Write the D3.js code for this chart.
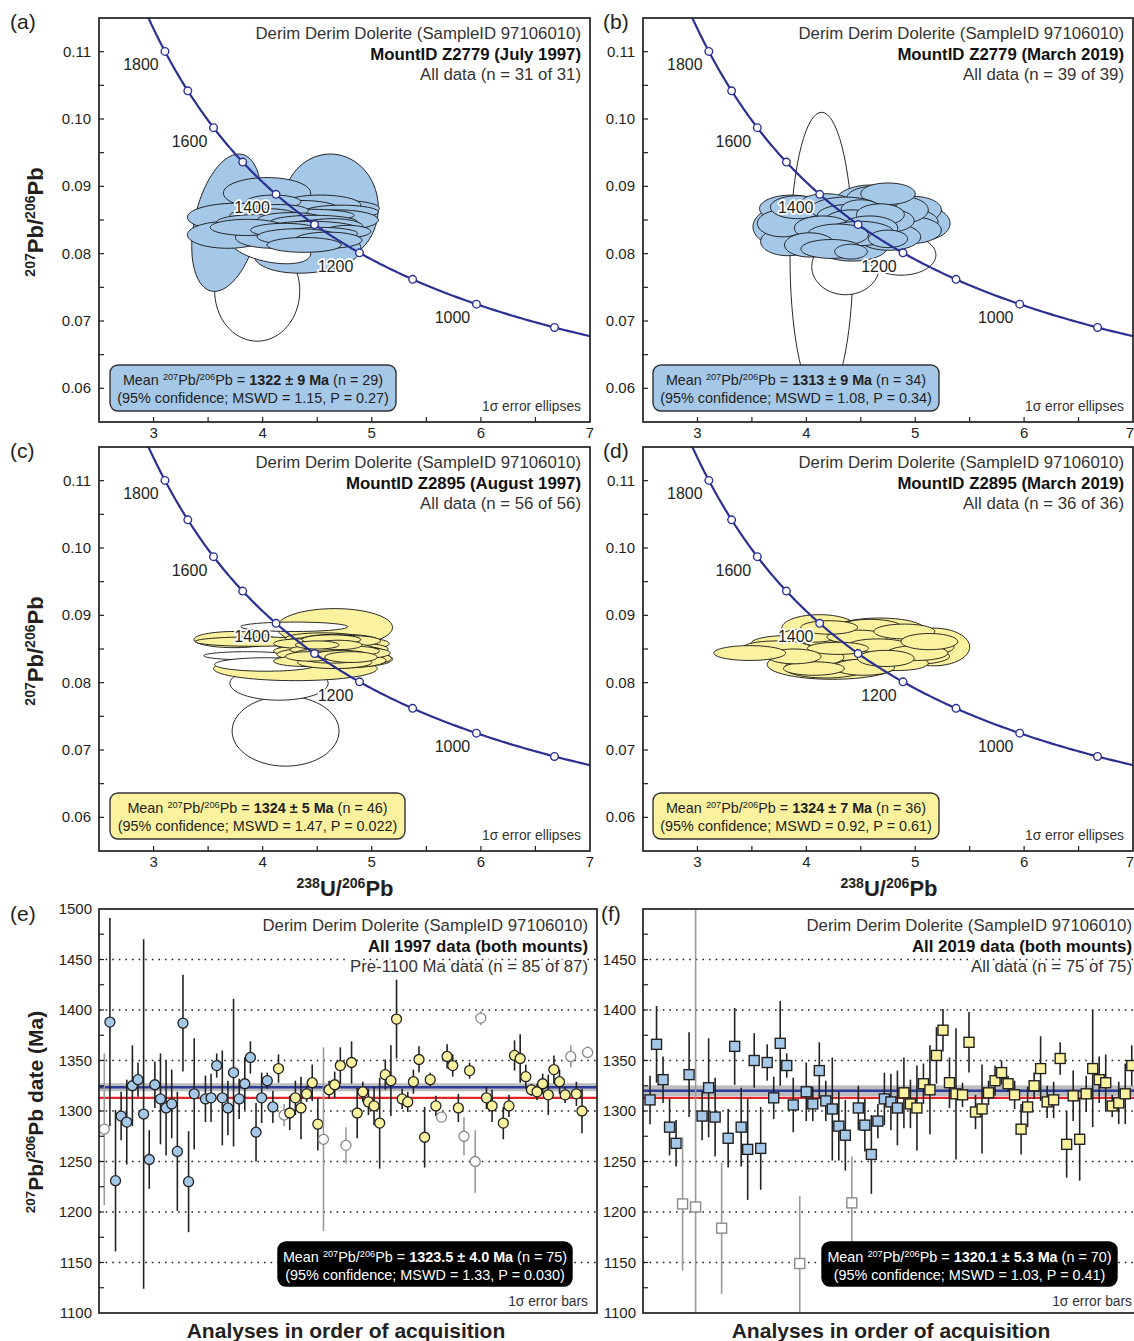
<!DOCTYPE html>
<html>
<head>
<meta charset="utf-8">
<script src="https://cdn.jsdelivr.net/npm/d3@7"></script>
<style>
  body { margin: 0; background: #fff; }
  svg { display: block; }
  text { font-family: "Liberation Sans", Arial, Helvetica, sans-serif; fill: #231f20; }
</style>
</head>
<body>
<svg id="fig" width="1134" height="1341"></svg>
<script>
// ---------------------------------------------------------------------------
// data
// ---------------------------------------------------------------------------

// concordia age marks (Ma) and which of them carry a label
var concordiaAges = [900, 1000, 1100, 1200, 1300, 1400, 1500, 1600, 1700, 1800];
var concordiaLabels = [1000, 1200, 1400, 1600, 1800];

// axis ticks
var ratioTicksX = [3, 4, 5, 6, 7];
var ratioTicksY = [0.06, 0.07, 0.08, 0.09, 0.10, 0.11];
var dateTicks = [1100, 1150, 1200, 1250, 1300, 1350, 1400, 1450, 1500];
var dateGrid = [1150, 1200, 1250, 1300, 1350, 1400, 1450];

// ellipses: [238U/206Pb, 207Pb/206Pb, sx, sy, rho, used in mean (1) or not (0)]
var ellipsesA = [
  [3.95, 0.0745, 0.39, 0.0075, 0, 0],
  [3.67, 0.0846, 0.32, 0.0102, 0.35, 1],
  [4.62, 0.0868, 0.44, 0.0080, 0, 1],
  [4.41, 0.0803, 0.49, 0.0032, 0.15, 1],
  [4.07, 0.0810, 0.37, 0.0025, -0.4, 0],
  [4.04, 0.0890, 0.40, 0.0023, 0, 1],
  [4.62, 0.0864, 0.45, 0.0015, 0.2, 1],
  [3.77, 0.0854, 0.46, 0.0021, 0, 1],
  [3.68, 0.0828, 0.37, 0.0020, 0, 1],
  [4.10, 0.0824, 0.35, 0.0016, 0, 1],
  [4.53, 0.0872, 0.37, 0.0015, 0, 1],
  [4.35, 0.0867, 0.34, 0.0012, 0, 1],
  [4.10, 0.0877, 0.25, 0.0010, 0, 1],
  [4.72, 0.0862, 0.34, 0.0010, 0, 1],
  [4.69, 0.0850, 0.37, 0.0015, 0, 1],
  [4.41, 0.0857, 0.43, 0.0009, 0, 1],
  [4.14, 0.0864, 0.28, 0.0009, 0, 1],
  [4.01, 0.0857, 0.31, 0.0010, 0, 1],
  [3.95, 0.0847, 0.37, 0.0011, 0, 1],
  [4.26, 0.0850, 0.31, 0.0011, 0, 1],
  [4.47, 0.0847, 0.40, 0.0010, 0, 1],
  [4.50, 0.0842, 0.25, 0.0008, 0, 1],
  [4.64, 0.0840, 0.28, 0.0012, 0, 1],
  [3.86, 0.0839, 0.34, 0.0012, 0, 1],
  [4.44, 0.0837, 0.43, 0.0011, 0, 1],
  [4.20, 0.0835, 0.31, 0.0010, 0, 1],
  [4.78, 0.0833, 0.21, 0.0009, 0, 1],
  [4.53, 0.0830, 0.34, 0.0009, 0, 1],
  [4.32, 0.0825, 0.37, 0.0012, 0, 1],
  [4.60, 0.0820, 0.31, 0.0012, 0, 1],
  [4.38, 0.0813, 0.34, 0.0011, 0, 1]
];

var ellipsesB = [
  [4.14, 0.0795, 0.29, 0.0215, 0, 0],
  [4.36, 0.0781, 0.31, 0.0042, 0, 0],
  [4.87, 0.0798, 0.32, 0.0030, 0, 0],
  [4.45, 0.0845, 0.20, 0.0012, 0, 0],
  [4.30, 0.0836, 0.20, 0.0010, 0, 0],
  [3.80, 0.0840, 0.29, 0.0030, 0, 1],
  [4.59, 0.0875, 0.33, 0.0027, 0, 1],
  [5.07, 0.0845, 0.25, 0.0025, 0, 1],
  [4.35, 0.0833, 0.43, 0.0022, 0, 1],
  [3.86, 0.0867, 0.29, 0.0020, 0, 1],
  [3.83, 0.0818, 0.25, 0.0021, 0, 1],
  [4.72, 0.0880, 0.29, 0.0020, 0, 1],
  [4.99, 0.0865, 0.25, 0.0020, 0, 1],
  [4.96, 0.0847, 0.25, 0.0019, 0, 1],
  [4.96, 0.0835, 0.28, 0.0020, 0, 1],
  [4.01, 0.0857, 0.31, 0.0019, 0, 1],
  [3.78, 0.0845, 0.23, 0.0020, 0, 1],
  [4.29, 0.0820, 0.33, 0.0020, 0, 1],
  [4.42, 0.0809, 0.32, 0.0020, 0, 1],
  [4.76, 0.0825, 0.29, 0.0020, 0, 1],
  [4.87, 0.0865, 0.25, 0.0020, 0, 1],
  [4.62, 0.0882, 0.25, 0.0018, 0, 1],
  [4.75, 0.0889, 0.25, 0.0016, 0, 1],
  [3.92, 0.0869, 0.25, 0.0017, 0, 1],
  [4.18, 0.0876, 0.23, 0.0013, 0, 1],
  [4.36, 0.0866, 0.32, 0.0018, 0, 1],
  [4.38, 0.0856, 0.28, 0.0017, 0, 1],
  [4.50, 0.0866, 0.18, 0.0014, 0, 1],
  [4.42, 0.0847, 0.26, 0.0018, 0, 1],
  [4.76, 0.0849, 0.23, 0.0017, 0, 1],
  [4.68, 0.0858, 0.22, 0.0016, 0, 1],
  [4.15, 0.0838, 0.26, 0.0018, 0, 1],
  [4.58, 0.0838, 0.26, 0.0018, 0, 1],
  [4.49, 0.0830, 0.32, 0.0018, 0, 1],
  [4.29, 0.0828, 0.28, 0.0016, 0, 1],
  [4.03, 0.0813, 0.23, 0.0018, 0, 1],
  [4.75, 0.0822, 0.18, 0.0013, 0, 1],
  [4.23, 0.0807, 0.28, 0.0014, 0, 1],
  [4.41, 0.0803, 0.15, 0.0011, 0, 1]
];

var ellipsesC = [
  [4.21, 0.0728, 0.49, 0.0052, 0, 0],
  [4.15, 0.0799, 0.45, 0.0025, 0, 0],
  [4.45, 0.0850, 0.25, 0.0008, 0, 0],
  [4.60, 0.0842, 0.25, 0.0008, 0, 0],
  [4.50, 0.0858, 0.22, 0.0007, 0, 0],
  [4.70, 0.0848, 0.22, 0.0007, 0, 0],
  [4.30, 0.0821, 0.75, 0.0018, 0, 1],
  [3.74, 0.0864, 0.37, 0.0012, 0, 1],
  [3.92, 0.0861, 0.54, 0.0007, 0, 1],
  [3.86, 0.0840, 0.40, 0.0006, 0, 0],
  [4.03, 0.0827, 0.47, 0.0010, 0, 0],
  [4.66, 0.0882, 0.53, 0.0028, 0, 1],
  [4.29, 0.0883, 0.49, 0.0007, 0, 0],
  [4.55, 0.0866, 0.30, 0.0006, 0, 0],
  [4.88, 0.0835, 0.31, 0.0011, 0, 1],
  [4.62, 0.0851, 0.46, 0.0012, 0, 1],
  [4.55, 0.0866, 0.34, 0.0008, 0, 1],
  [4.70, 0.0863, 0.36, 0.0009, 0, 1],
  [4.48, 0.0860, 0.30, 0.0007, 0, 1],
  [4.78, 0.0858, 0.38, 0.0010, 0, 1],
  [4.60, 0.0856, 0.33, 0.0008, 0, 1],
  [4.42, 0.0854, 0.28, 0.0007, 0, 1],
  [4.72, 0.0853, 0.35, 0.0009, 0, 1],
  [4.52, 0.0851, 0.30, 0.0008, 0, 1],
  [4.85, 0.0850, 0.30, 0.0009, 0, 1],
  [4.65, 0.0848, 0.32, 0.0008, 0, 1],
  [4.40, 0.0847, 0.30, 0.0008, 0, 1],
  [4.75, 0.0846, 0.36, 0.0010, 0, 1],
  [4.55, 0.0845, 0.28, 0.0007, 0, 1],
  [4.68, 0.0843, 0.34, 0.0008, 0, 1],
  [4.45, 0.0842, 0.32, 0.0009, 0, 1],
  [4.82, 0.0841, 0.33, 0.0009, 0, 1],
  [4.58, 0.0840, 0.30, 0.0008, 0, 1],
  [4.70, 0.0838, 0.35, 0.0009, 0, 1],
  [4.50, 0.0837, 0.30, 0.0008, 0, 1],
  [4.88, 0.0836, 0.30, 0.0010, 0, 1],
  [4.62, 0.0834, 0.33, 0.0009, 0, 1],
  [4.75, 0.0833, 0.38, 0.0011, 0, 1],
  [4.40, 0.0832, 0.30, 0.0008, 0, 1],
  [4.66, 0.0830, 0.34, 0.0009, 0, 1],
  [4.92, 0.0844, 0.25, 0.0008, 0, 1],
  [4.35, 0.0858, 0.25, 0.0007, 0, 1],
  [4.80, 0.0862, 0.28, 0.0008, 0, 1],
  [4.58, 0.0859, 0.22, 0.0007, 0, 1],
  [4.63, 0.0864, 0.27, 0.0007, 0, 1],
  [4.47, 0.0849, 0.22, 0.0006, 0, 1],
  [4.77, 0.0851, 0.24, 0.0007, 0, 1],
  [4.53, 0.0843, 0.24, 0.0007, 0, 1],
  [4.85, 0.0847, 0.22, 0.0007, 0, 1],
  [4.64, 0.0836, 0.26, 0.0007, 0, 1],
  [4.43, 0.0839, 0.22, 0.0007, 0, 1],
  [4.72, 0.0841, 0.24, 0.0007, 0, 1],
  [4.57, 0.0853, 0.20, 0.0006, 0, 1],
  [4.69, 0.0856, 0.22, 0.0007, 0, 1],
  [4.81, 0.0838, 0.24, 0.0008, 0, 1],
  [4.50, 0.0856, 0.20, 0.0006, 0, 1]
];

var ellipsesD = [
  [4.24, 0.0827, 0.60, 0.0022, 0, 1],
  [5.18, 0.0851, 0.29, 0.0017, 0, 1],
  [5.17, 0.0853, 0.33, 0.0028, 0, 1],
  [4.12, 0.0881, 0.345, 0.0020, 0, 1],
  [4.67, 0.0880, 0.41, 0.0016, 0, 1],
  [4.90, 0.0854, 0.40, 0.0015, 0, 1],
  [3.92, 0.0850, 0.49, 0.0013, 0, 1],
  [4.18, 0.0822, 0.38, 0.0015, 0, 1],
  [3.83, 0.0858, 0.34, 0.0012, 0, 1],
  [4.26, 0.0864, 0.31, 0.0012, 0, 1],
  [4.67, 0.0861, 0.32, 0.0013, 0, 1],
  [4.70, 0.0843, 0.32, 0.0013, 0, 1],
  [4.97, 0.0839, 0.345, 0.0012, 0, 1],
  [4.44, 0.0851, 0.31, 0.0012, 0, 1],
  [4.47, 0.0832, 0.37, 0.0013, 0, 1],
  [4.95, 0.0866, 0.23, 0.0011, 0, 1],
  [4.04, 0.0870, 0.28, 0.0010, 0, 1],
  [5.01, 0.0849, 0.26, 0.0011, 0, 1],
  [4.59, 0.0883, 0.28, 0.0011, 0, 1],
  [4.33, 0.0844, 0.29, 0.0011, 0, 1],
  [4.10, 0.0838, 0.245, 0.0012, 0, 1],
  [4.84, 0.0829, 0.28, 0.0011, 0, 1],
  [3.73, 0.0852, 0.31, 0.0010, 0, 1],
  [5.11, 0.0853, 0.245, 0.0012, 0, 1],
  [4.47, 0.0868, 0.28, 0.0010, 0, 1],
  [4.53, 0.0823, 0.28, 0.0012, 0, 1],
  [4.21, 0.0882, 0.26, 0.0010, 0, 1],
  [4.90, 0.0876, 0.28, 0.0011, 0, 1],
  [4.07, 0.0821, 0.28, 0.0010, 0, 1],
  [4.66, 0.0855, 0.28, 0.0010, 0, 1],
  [5.02, 0.0844, 0.28, 0.0011, 0, 1],
  [5.13, 0.0861, 0.26, 0.0012, 0, 1],
  [4.29, 0.0851, 0.28, 0.0009, 0, 1],
  [3.89, 0.0839, 0.245, 0.0011, 0, 1],
  [4.73, 0.0836, 0.26, 0.0012, 0, 1],
  [3.48, 0.0844, 0.33, 0.0011, 0, 1]
];

// dates (Ma) in order of acquisition; null = below 1100 Ma (off scale)
var datesE = [1282, 1388, 1231, 1295, 1289, 1325, 1331, 1297, 1252, 1326,
  1312, 1303, 1307, 1260, 1387, 1230, 1317, null, 1312, 1313,
  1345, 1313, 1303, 1338, 1312, 1327, 1353, 1279, 1313, 1330,
  1304, 1342, 1296, 1298, 1313, 1303, 1317, 1328, 1287, 1272,
  1321, 1326, 1345, 1266, 1348, 1298, 1319, 1309, 1305, 1288,
  1336, 1330, 1391, 1312, 1309, 1329, 1351, 1274, 1331, 1305,
  1294, 1354, 1345, 1303, 1275, 1340, 1250, 1392, 1313, 1305,
  null, 1288, 1305, 1355, 1352, 1334, 1321, 1319, 1327, 1316,
  1341, 1329, 1316, 1354, 1317, 1300, 1358];
var errorsE = [75, 103, 70, 24, 42, 40, 17, 173, 29, 23,
  45, 47, 34, 59, 48, 50, 55, 0, 23, 24,
  12, 47, 27, 73, 20, 26, 16, 29, 25, 8,
  16, 14, 11, 17, 17, 31, 8, 18, 26, 91,
  9, 13, 18, 18, 21, 25, 10, 13, 19, 45,
  15, 35, 39, 10, 10, 12, 13, 30, 7, 10,
  4, 12, 11, 14, 19, 8, 31, 7, 11, 16,
  0, 16, 11, 15, 24, 12, 6, 8, 10, 20,
  14, 12, 8, 11, 12, 22, 6];
// B = Z2779, Y = Z2895, W = excluded from the mean
var statusE = ['W', 'BBBBBBBBBB', 'BBBBBBBBBB', 'BBBBBBBBBB', 'Y', 'W', 'YYYYYY', 'W', 'YYY', 'W',
  'YYYYYYYYYYYYYYYY', 'W', 'YYY', 'W', 'Y', 'W', 'W', 'YY', 'Y', 'YYYYYYYYYYYY', 'W', 'YY', 'W'].join('').split('');

var datesF = [1311, 1366, 1331, 1284, 1268, 1208, 1336, 1205, 1295, 1323,
  1294, 1184, 1273, 1364, 1284, 1262, 1350, 1263, 1348, 1313,
  1367, 1345, 1306, 1149, 1319, 1307, 1340, 1310, 1302, 1285,
  1276, 1209, 1303, 1286, 1257, 1290, 1312, 1309, 1303, 1318,
  1307, 1303, 1327, 1321, 1355, 1380, 1328, 1317, 1316, 1368,
  1299, 1302, 1318, 1330, 1338, 1327, 1316, 1282, 1304, 1325,
  1342, 1309, 1311, 1352, 1267, 1315, 1272, 1317, 1342, 1331,
  1328, 1305, 1308, 1317, 1345];
var errorsF = [24, 38, 23, 28, 23, 66, 42, 330, 24, 49,
  39, 65, 29, 38, 39, 50, 27, 41, 18, 21,
  42, 12, 27, 67, 29, 17, 28, 20, 51, 34,
  35, 46, 22, 26, 39, 17, 26, 28, 37, 35,
  24, 42, 20, 44, 28, 21, 25, 65, 12, 30,
  17, 44, 12, 15, 12, 8, 14, 25, 20, 13,
  32, 16, 18, 16, 33, 25, 41, 18, 58, 23,
  28, 11, 21, 30, 20];
var statusF = ['BBBBB', 'W', 'B', 'W', 'BBB', 'W', 'BBBBBBBBBBB', 'W', 'BBBBBBB', 'W', 'BBBBBBB',
  'YYYYYYYYYYYYYYYYYYYYYYYYYYYYYYYYYYYY'].join('').split('');

// weighted means (Ma) and the reference age drawn in red
var meanE = 1323.5, meanErrE = 4.0;
var meanF = 1320.1, meanErrF = 5.3;
var referenceAge = 1313;

// ---------------------------------------------------------------------------
// styles and helpers
// ---------------------------------------------------------------------------
var blueFill = '#a6c8e8';
var yellowFill = '#fbf2a0';
var navy = '#2b3192';
var ink = '#231f20';

// decay constants for the Tera-Wasserburg concordia
var L238 = 1.55125e-10, L235 = 9.8485e-10, U_RATIO = 137.88;
function twX(t) { return 1 / (Math.exp(L238 * t * 1e6) - 1); }
function twY(t) { return (Math.exp(L235 * t * 1e6) - 1) / (Math.exp(L238 * t * 1e6) - 1) / U_RATIO; }

var svg = d3.select('#fig');
var clipId = 0;

// parts: [text, style] with style '', 'b' (bold) or 'sup'
function rich(textSel, parts, fs) {
  var shift = 0;
  parts.forEach(function (p) {
    var t = textSel.append('tspan').text(p[0]);
    if (p[1] === 'b') t.attr('font-weight', 'bold');
    if (p[1] === 'sup') {
      t.attr('font-size', (fs * 0.64) + 'px').attr('dy', (-fs * 0.38 - shift) + 'px');
      shift = -fs * 0.38;
    } else if (shift !== 0) {
      t.attr('dy', (-shift) + 'px');
      shift = 0;
    }
  });
  return textSel;
}

function panelLabel(txt, x, y) {
  svg.append('text').attr('x', x).attr('y', y)
    .attr('font-size', '21px').text(txt);
}

function header(g, w, lines, top) {
  lines.forEach(function (l, i) {
    g.append('text')
      .attr('x', w - 9).attr('y', top + i * 20.5)
      .attr('text-anchor', 'end')
      .attr('font-size', '16.8px')
      .attr('font-weight', i === 1 ? 'bold' : null)
      .attr('stroke', '#fff').attr('stroke-width', 5)
      .attr('paint-order', 'stroke')
      .attr('stroke-linejoin', 'round')
      .style('fill', i === 1 ? '#111' : '#333')
      .text(l);
  });
}

function meanBox(g, box, fill, dark, mean, ci, line2) {
  g.append('rect')
    .attr('x', box[0]).attr('y', box[1]).attr('width', box[2]).attr('height', box[3])
    .attr('rx', 8).attr('ry', 8)
    .attr('fill', fill).attr('stroke', dark ? '#000' : '#333').attr('stroke-width', 1.4);
  var cx = box[0] + box[2] / 2;
  var col = dark ? '#fff' : '#231f20';
  var t1 = g.append('text').attr('x', cx).attr('y', box[1] + 20)
    .attr('text-anchor', 'middle').attr('font-size', '14.4px').style('fill', col);
  rich(t1, [['Mean ', ''], ['207', 'sup'], ['Pb/', ''], ['206', 'sup'], ['Pb = ', ''],
    [mean, 'b'], [' (n = ' + ci + ')', '']], 14.4);
  g.append('text').attr('x', cx).attr('y', box[1] + 38)
    .attr('text-anchor', 'middle').attr('font-size', '14.4px').style('fill', col)
    .text(line2);
}

function ellipsePath(e, x, y) {
  var r2 = Math.sqrt(1 - e[4] * e[4]);
  var pts = d3.range(72).map(function (i) {
    var a = i / 72 * 2 * Math.PI;
    return [x(e[0] + e[2] * Math.cos(a)),
            y(e[1] + e[3] * (e[4] * Math.cos(a) + r2 * Math.sin(a)))];
  });
  return d3.line().curve(d3.curveLinearClosed)(pts);
}

function clipFor(g, w, h) {
  var id = 'clip' + (clipId++);
  g.append('clipPath').attr('id', id).append('rect').attr('width', w).attr('height', h);
  return 'url(#' + id + ')';
}

// ---------------------------------------------------------------------------
// concordia panels (a)-(d)
// ---------------------------------------------------------------------------
function ratioPanel(cfg) {
  var g = svg.append('g').attr('transform', 'translate(' + cfg.left + ',' + cfg.top + ')');
  var x = d3.scaleLinear().domain([2.5, 7]).range([0, cfg.w]);
  var y = d3.scaleLinear().domain([0.055, 0.115]).range([cfg.h, 0]);
  var clip = clipFor(g, cfg.w, cfg.h);
  var body = g.append('g').attr('clip-path', clip);

  body.selectAll('path.ell')
    .data(cfg.ellipses).enter().append('path')
    .classed('ell', true)
    .attr('d', function (e) { return ellipsePath(e, x, y); })
    .attr('fill', function (e) { return e[5] ? cfg.fill : '#fff'; })
    .attr('stroke', '#111').attr('stroke-width', 0.9);

  var ages = d3.range(800, 2101, 5);
  body.append('path')
    .attr('d', d3.line().x(function (t) { return x(twX(t)); }).y(function (t) { return y(twY(t)); })(ages))
    .attr('fill', 'none').attr('stroke', navy).attr('stroke-width', 2.2);

  body.selectAll('circle.age')
    .data(concordiaAges).enter().append('circle')
    .classed('age', true)
    .attr('cx', function (t) { return x(twX(t)); })
    .attr('cy', function (t) { return y(twY(t)); })
    .attr('r', 3.8).attr('fill', '#fff').attr('stroke', navy).attr('stroke-width', 1.4);

  g.selectAll('text.agelab')
    .data(concordiaLabels).enter().append('text')
    .classed('agelab', true)
    .attr('x', function (t) { return x(twX(t)) - 24; })
    .attr('y', function (t) { return y(twY(t)) + 19; })
    .attr('text-anchor', 'middle').attr('font-size', '16px')
    .attr('stroke', '#fff').attr('stroke-width', 3.5).attr('paint-order', 'stroke')
    .attr('stroke-linejoin', 'round')
    .text(function (t) { return t; });

  header(g, cfg.w, cfg.lines, 21);
  meanBox(g, cfg.box, cfg.fill, false, cfg.mean, cfg.n, cfg.stats);

  g.append('text').attr('x', cfg.w - 9).attr('y', cfg.h - 11)
    .attr('text-anchor', 'end').attr('font-size', '13.8px').style('fill', '#333')
    .text('1\u03c3 error ellipses');

  // ticks inside the frame
  g.selectAll('line.xt')
    .data(d3.range(3, 7, 0.5)).enter().append('line')
    .attr('x1', x).attr('x2', x).attr('y1', cfg.h).attr('y2', cfg.h - 5)
    .attr('stroke', ink).attr('stroke-width', 1.2);
  g.selectAll('line.yt')
    .data(d3.range(0.06, 0.1125, 0.005)).enter().append('line')
    .attr('y1', y).attr('y2', y).attr('x1', 0).attr('x2', 5)
    .attr('stroke', ink).attr('stroke-width', 1.2);

  // the last tick label sits on the page edge in the right-hand column
  g.selectAll('text.xl')
    .data(ratioTicksX).enter().append('text')
    .attr('x', function (d) { return (cfg.edge && d === 7) ? cfg.w + 1 : x(d); })
    .attr('y', cfg.h + 16)
    .attr('text-anchor', function (d) { return (cfg.edge && d === 7) ? 'end' : 'middle'; })
    .attr('font-size', '15px')
    .text(function (d) { return d; });
  g.selectAll('text.yl')
    .data(ratioTicksY).enter().append('text')
    .attr('x', -8).attr('y', function (d) { return y(d) + 5; })
    .attr('text-anchor', 'end').attr('font-size', '15px')
    .text(d3.format('.2f'));

  g.append('rect').attr('width', cfg.w).attr('height', cfg.h)
    .attr('fill', 'none').attr('stroke', ink).attr('stroke-width', 1.7);
}

// ---------------------------------------------------------------------------
// date panels (e)-(f)
// ---------------------------------------------------------------------------
function datePanel(cfg) {
  var g = svg.append('g').attr('transform', 'translate(' + cfg.left + ',' + cfg.top + ')');
  var x = d3.scaleLinear().domain(cfg.slots).range([0, cfg.w]);
  var y = d3.scaleLinear().domain([1100, 1500]).range([cfg.h, 0]);
  var clip = clipFor(g, cfg.w, cfg.h);

  g.selectAll('line.grid')
    .data(dateGrid).enter().append('line')
    .attr('x1', 0).attr('x2', cfg.w).attr('y1', y).attr('y2', y)
    .attr('stroke', '#222').attr('stroke-width', 1.3).attr('stroke-dasharray', '1.6,5');

  var body = g.append('g').attr('clip-path', clip);
  body.append('rect')
    .attr('x', 0).attr('width', cfg.w)
    .attr('y', y(cfg.mean + cfg.meanErr))
    .attr('height', y(cfg.mean - cfg.meanErr) - y(cfg.mean + cfg.meanErr))
    .attr('fill', '#bcbdc0');
  body.append('line').attr('x1', 0).attr('x2', cfg.w)
    .attr('y1', y(referenceAge)).attr('y2', y(referenceAge))
    .attr('stroke', '#e3242b').attr('stroke-width', 2.2);
  body.append('line').attr('x1', 0).attr('x2', cfg.w)
    .attr('y1', y(cfg.mean)).attr('y2', y(cfg.mean))
    .attr('stroke', '#2e3d98').attr('stroke-width', 2.4);

  var pts = cfg.dates.map(function (v, i) {
    return {k: i + 1, v: v, e: cfg.errors[i], s: cfg.status[i]};
  }).filter(function (p) { return p.v !== null; });

  function col(s) { return s === 'W' ? '#fff' : (s === 'B' ? blueFill : yellowFill); }

  var grp = body.selectAll('g.pt').data(pts).enter().append('g').classed('pt', true);
  grp.append('line')
    .attr('x1', function (p) { return x(p.k); }).attr('x2', function (p) { return x(p.k); })
    .attr('y1', function (p) { return y(p.v - p.e); }).attr('y2', function (p) { return y(p.v + p.e); })
    .attr('stroke', function (p) { return p.s === 'W' ? '#9a9a9a' : '#222'; })
    .attr('stroke-width', 1.6);
  if (cfg.square) {
    grp.append('rect')
      .attr('x', function (p) { return x(p.k) - 5; })
      .attr('y', function (p) { return y(p.v) - 5; })
      .attr('width', 10).attr('height', 10)
      .attr('fill', function (p) { return col(p.s); })
      .attr('stroke', function (p) { return p.s === 'W' ? '#8a8a8a' : '#222'; })
      .attr('stroke-width', 1.4);
  } else {
    grp.append('circle')
      .attr('cx', function (p) { return x(p.k); })
      .attr('cy', function (p) { return y(p.v); })
      .attr('r', 5)
      .attr('fill', function (p) { return col(p.s); })
      .attr('stroke', function (p) { return p.s === 'W' ? '#8a8a8a' : '#222'; })
      .attr('stroke-width', 1.3);
  }

  header(g, cfg.w, cfg.lines, 22);
  meanBox(g, cfg.box, '#000', true, cfg.meanText, cfg.n, cfg.stats);

  g.append('text').attr('x', cfg.w - 9).attr('y', cfg.h - 7)
    .attr('text-anchor', 'end').attr('font-size', '13.8px').style('fill', '#333')
    .text('1\u03c3 error bars');

  g.selectAll('line.yt')
    .data(d3.range(1125, 1500, 25)).enter().append('line')
    .attr('y1', y).attr('y2', y).attr('x1', 0).attr('x2', 5)
    .attr('stroke', ink).attr('stroke-width', 1.2);
  g.selectAll('text.yl')
    .data(cfg.labels).enter().append('text')
    .attr('x', -7).attr('y', function (d) { return y(d) + 5; })
    .attr('text-anchor', 'end').attr('font-size', '15px')
    .text(function (d) { return d; });

  g.append('rect').attr('width', cfg.w).attr('height', cfg.h)
    .attr('fill', 'none').attr('stroke', ink).attr('stroke-width', 1.7);
}

// ---------------------------------------------------------------------------
// build the figure
// ---------------------------------------------------------------------------
ratioPanel({left: 99, top: 18, w: 491, h: 404, ellipses: ellipsesA, fill: blueFill,
  lines: ['Derim Derim Dolerite (SampleID 97106010)', 'MountID Z2779 (July 1997)', 'All data (n = 31 of 31)'],
  box: [11, 347, 286, 46], mean: '1322 \u00b1 9 Ma', n: 29,
  stats: '(95% confidence; MSWD = 1.15, P = 0.27)'});
ratioPanel({left: 643, top: 18, w: 490, h: 404, ellipses: ellipsesB, fill: blueFill, edge: true,
  lines: ['Derim Derim Dolerite (SampleID 97106010)', 'MountID Z2779 (March 2019)', 'All data (n = 39 of 39)'],
  box: [10, 347, 286, 46], mean: '1313 \u00b1 9 Ma', n: 34,
  stats: '(95% confidence; MSWD = 1.08, P = 0.34)'});
ratioPanel({left: 99, top: 447, w: 491, h: 404, ellipses: ellipsesC, fill: yellowFill,
  lines: ['Derim Derim Dolerite (SampleID 97106010)', 'MountID Z2895 (August 1997)', 'All data (n = 56 of 56)'],
  box: [11, 346, 295, 46], mean: '1324 \u00b1 5 Ma', n: 46,
  stats: '(95% confidence; MSWD = 1.47, P = 0.022)'});
ratioPanel({left: 643, top: 447, w: 490, h: 404, ellipses: ellipsesD, fill: yellowFill, edge: true,
  lines: ['Derim Derim Dolerite (SampleID 97106010)', 'MountID Z2895 (March 2019)', 'All data (n = 36 of 36)'],
  box: [10, 346, 286, 46], mean: '1324 \u00b1 7 Ma', n: 36,
  stats: '(95% confidence; MSWD = 0.92, P = 0.61)'});

datePanel({left: 99, top: 909, w: 498, h: 404, slots: [0.06, 88.67],
  dates: datesE, errors: errorsE, status: statusE, square: false,
  mean: meanE, meanErr: meanErrE, labels: dateTicks,
  lines: ['Derim Derim Dolerite (SampleID 97106010)', 'All 1997 data (both mounts)', 'Pre-1100 Ma data (n = 85 of 87)'],
  box: [179, 333, 294, 44], meanText: '1323.5 \u00b1 4.0 Ma', n: 75,
  stats: '(95% confidence; MSWD = 1.33, P = 0.030)'});
datePanel({left: 643, top: 909, w: 498, h: 404, slots: [-0.08, 76.42],
  dates: datesF, errors: errorsF, status: statusF, square: true,
  mean: meanF, meanErr: meanErrF, labels: dateTicks.slice(0, 8),
  lines: ['Derim Derim Dolerite (SampleID 97106010)', 'All 2019 data (both mounts)', 'All data (n = 75 of 75)'],
  box: [179, 333, 295, 44], meanText: '1320.1 \u00b1 5.3 Ma', n: 70,
  stats: '(95% confidence; MSWD = 1.03, P = 0.41)'});

// panel letters
panelLabel('(a)', 10, 29);
panelLabel('(b)', 603, 29);
panelLabel('(c)', 10, 458);
panelLabel('(d)', 603, 458);
panelLabel('(e)', 10, 921);
panelLabel('(f)', 601, 921);

// axis titles
var pbParts = [['207', 'sup'], ['Pb/', ''], ['206', 'sup'], ['Pb', '']];
[222, 651].forEach(function (cy) {
  rich(svg.append('text').attr('transform', 'translate(43,' + cy + ') rotate(-90)')
    .attr('text-anchor', 'middle').attr('font-size', '22px').attr('font-weight', 'bold'), pbParts, 22);
});
rich(svg.append('text').attr('transform', 'translate(43,1112) rotate(-90)')
  .attr('text-anchor', 'middle').attr('font-size', '21px').attr('font-weight', 'bold'),
  pbParts.concat([[' date (Ma)', '']]), 21);
[345, 889].forEach(function (cx) {
  rich(svg.append('text').attr('x', cx).attr('y', 896)
    .attr('text-anchor', 'middle').attr('font-size', '22px').attr('font-weight', 'bold'),
    [['238', 'sup'], ['U/', ''], ['206', 'sup'], ['Pb', '']], 22);
});
[346, 891].forEach(function (cx) {
  svg.append('text').attr('x', cx).attr('y', 1338)
    .attr('text-anchor', 'middle').attr('font-size', '21px').attr('font-weight', 'bold')
    .text('Analyses in order of acquisition');
});
</script>
</body>
</html>
